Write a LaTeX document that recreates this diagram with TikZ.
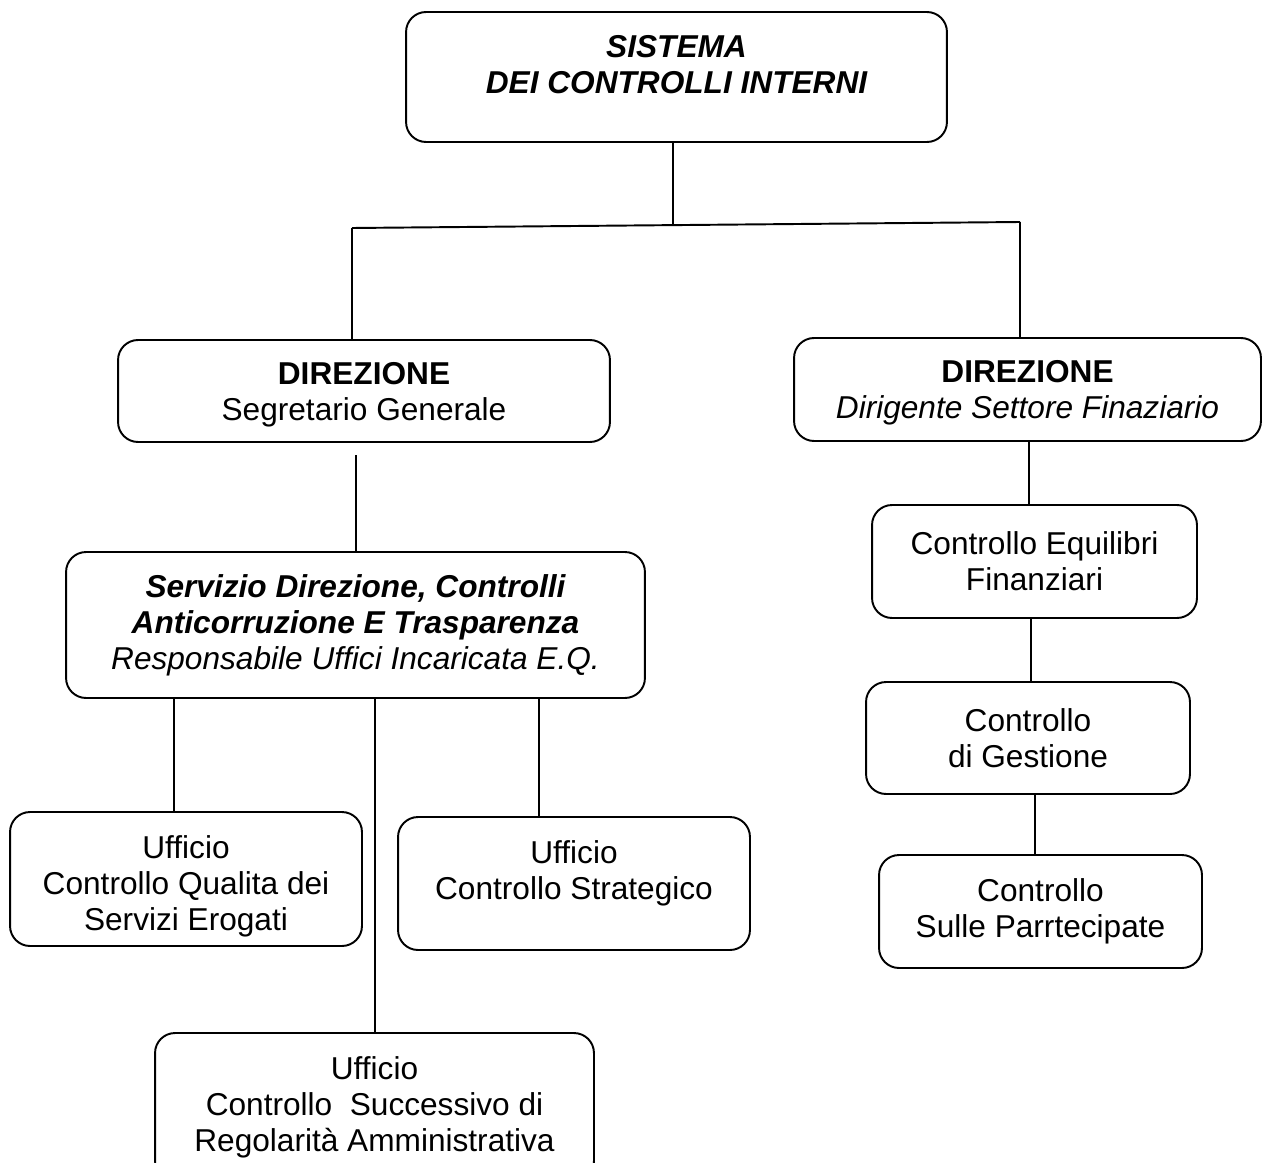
\documentclass[tikz,border=0pt]{standalone}
\usepackage{fontspec}
\setmainfont{Liberation Sans}
\usetikzlibrary{positioning}
\newcommand\boxfont{\fontsize{18}{20.5}\selectfont}

\begin{document}
\begin{tikzpicture}[ -, x=0.02cm, y=-0.02cm, line width=1.1pt,
                    auto, box/.style = {draw, rounded corners=0.4cm, align=center,
                    inner sep=0pt, font=\boxfont}]
\clip (0,0) rectangle (1263,1162);
% top
\node[box, minimum width=10.82cm, minimum height=2.6cm, font=\boxfont\bfseries\itshape] (sys) at (676.5,77)
  {SISTEMA\\DEI CONTROLLI INTERNI\rule[-0.5cm]{0pt}{0.5cm}};
% direzioni
\node[box, minimum width=9.84cm, minimum height=2.04cm] (dirsg) at (364,391)
  {\rule{0pt}{0.58cm}{\bfseries DIREZIONE}\\Segretario Generale};
\node[box, minimum width=9.34cm, minimum height=2.06cm] (dirfin) at (1027.5,389.5)
  {\rule{0pt}{0.58cm}{\bfseries DIREZIONE}\\{\itshape Dirigente Settore Finaziario}};
% servizio e uffici
\node[box, minimum width=11.58cm, minimum height=2.92cm, font=\boxfont\itshape] (serv) at (355.5,625)
  {{\bfseries Servizio Direzione, Controlli}\\{\bfseries Anticorruzione E Trasparenza}\\Responsabile Uffici Incaricata E.Q.};
\node[box, minimum width=7.04cm, minimum height=2.68cm] (uqual) at (186,879)
  {\rule{0pt}{0.74cm}Ufficio\\Controllo Qualita dei\\Servizi Erogati};
\node[box, minimum width=7.04cm, minimum height=2.66cm] (ustrat) at (574,883.5)
  {Ufficio\\Controllo Strategico\rule[-0.52cm]{0pt}{0.52cm}};
\node[box, minimum width=8.78cm, minimum height=2.96cm] (usucc) at (374.5,1107)
  {Ufficio\\Controllo~~Successivo di\\Regolarità Amministrativa};
% controlli finanziari
\node[box, minimum width=6.5cm, minimum height=2.26cm] (equil) at (1034.5,561.5)
  {Controllo Equilibri\\Finanziari};
\node[box, minimum width=6.48cm, minimum height=2.24cm] (gest) at (1028,738)
  {Controllo\\di Gestione};
\node[box, minimum width=6.46cm, minimum height=2.26cm] (part) at (1040.5,911.5)
  {Controllo\\Sulle Parrtecipate};

\coordinate (hub) at (673,225);
\coordinate (hl) at (352,228);
\coordinate (hr) at (1020,222);
\coordinate (sg) at (356,455);
\coordinate (s1) at (174,698);
\coordinate (s2) at (375,698);
\coordinate (s3) at (539,698);
\coordinate (f1) at (1029,441);
\coordinate (f2) at (1031,618);
\coordinate (f3) at (1035,794);
    \path
(hub |- sys.south) edge (hub)
(hl) edge (hr)
(hl) edge (hl |- dirsg.north)
(hr) edge (hr |- dirfin.north)
(sg) edge (sg |- serv.north)
(s1) edge (s1 |- uqual.north)
(s2) edge (s2 |- usucc.north)
(s3) edge (s3 |- ustrat.north)
(f1) edge (f1 |- equil.north)
(f2) edge (f2 |- gest.north)
(f3) edge (f3 |- part.north);
\end{tikzpicture}
\end{document}
